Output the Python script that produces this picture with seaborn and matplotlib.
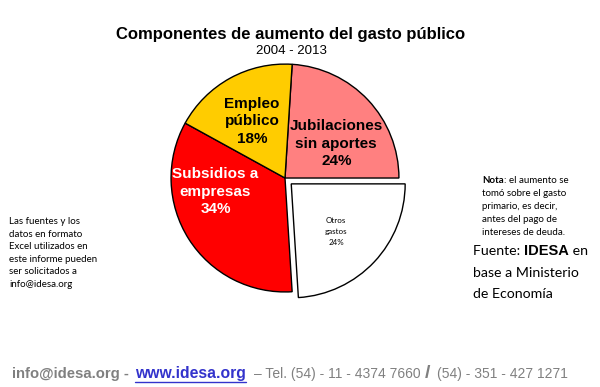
import matplotlib
matplotlib.use("Agg")
import matplotlib.pyplot as plt
import seaborn as sns

sns.set_theme(style="white")
plt.rcParams['font.family'] = ['Liberation Sans', 'DejaVu Sans']
plt.rcParams['text.color'] = 'black'

# data
componentes = ["Jubilaciones\nsin aportes", "Otros\ngastos", "Subsidios a\nempresas", "Empleo\npúblico"]
porcentajes = [24, 24, 34, 18]
colores = ["#FF8080", "#FFFFFF", "#FF0000", "#FFCC00"]
separacion = [0, 0.075, 0, 0]

titulo = "Componentes de aumento del gasto público"
periodo = "2004 - 2013"
nota = ["tomó sobre el gasto", "primario, es decir,", "antes del pago de", "intereses de deuda."]

fig = plt.figure(figsize=(6, 3.87), dpi=100)
fig.patch.set_facecolor("white")
ax = fig.add_axes([0.2375, 0.172, 0.475, 0.736])

wedges, _ = ax.pie(porcentajes, colors=colores, explode=separacion,
                   startangle=86.4, counterclock=False,
                   wedgeprops=dict(edgecolor="black", linewidth=1.0))
ax.set_xlim(-1.25, 1.25)
ax.set_ylim(-1.25, 1.25)
ax.set_aspect("equal")
ax.axis("off")

# slice labels
pos = [(0.45, 0.30), (0.45, -0.47), (-0.61, -0.12), (-0.29, 0.50)]
txt_color = ["black", "black", "white", "black"]
for i, (nombre, p) in enumerate(zip(componentes, porcentajes)):
    if nombre.startswith("Otros"):
        ax.text(pos[i][0], pos[i][1], f"{nombre}\n{p}%", ha="center", va="center",
                fontsize=5.8, family=["Lato", "DejaVu Sans"], linespacing=1.7,
                color=txt_color[i])
    else:
        ax.text(pos[i][0], pos[i][1], f"{nombre}\n{p}%", ha="center", va="center",
                fontsize=11, fontweight="bold", linespacing=1.32,
                color=txt_color[i])

# titles
fig.text(0.485, 0.91, titulo, ha="center", va="center", fontsize=12, fontweight="bold")
fig.text(0.485, 0.869, periodo, ha="center", va="center", fontsize=9.5)

fig.canvas.draw()
renderer = fig.canvas.get_renderer()


def cadena(px, py, partes):
    # draw text pieces one after another on the same baseline
    x = px / 600
    for s, kw in partes:
        t = fig.text(x, 1 - py / 387, s, ha="left", va="baseline", **kw)
        bb = t.get_window_extent(renderer=renderer)
        x = bb.x1 / 600


# left note
fig.text(0.015, 0.438, "Las fuentes y los\ndatos en formato\nExcel utilizados en\neste informe pueden\nser solicitados a\ninfo@idesa.org",
         ha="left", va="top", fontsize=7, family=["Lato", "DejaVu Sans"], linespacing=1.49)

# right note
lato = ["Lato", "DejaVu Sans"]
cadena(482, 183, [("Nota", dict(fontsize=7, family=lato, fontweight="bold")),
                  (": el aumento se", dict(fontsize=7, family=lato))])
for i, linea in enumerate(nota):
    cadena(482, 183 + 13 * (i + 1), [(linea, dict(fontsize=7, family=lato))])
cadena(473, 255, [("Fuente: ", dict(fontsize=10.2, family=lato)),
                  ("IDESA", dict(fontsize=10.5, fontweight="bold")),
                  (" en", dict(fontsize=10.2, family=lato))])
cadena(473, 277, [("base a Ministerio", dict(fontsize=10.2, family=lato))])
cadena(473, 298, [("de Economía", dict(fontsize=10.2, family=lato))])

# footer
gris = "#808080"
azul = "#3333CC"
y = 0.023
partes = [
    (12, "info@idesa.org -", dict(color=gris, fontweight="bold", fontsize=10.7)),
    (135, "www.idesa.org", dict(color=azul, fontweight="bold", fontsize=11.3)),
    (254, "– Tel. (54) - 11 - 4374 7660", dict(color=gris, fontsize=10)),
    (425, "/", dict(color=gris, fontsize=14, fontweight="bold")),
    (437, "(54) - 351 - 427 1271", dict(color=gris, fontsize=10)),
]
for px, s, kw in partes:
    t = fig.text(px / 600, y, s, ha="left", va="baseline", **kw)
    if s.startswith("www"):
        bb = t.get_window_extent(renderer=renderer)
        fig.add_artist(plt.Line2D([bb.x0 / 600, bb.x1 / 600], [y - 0.009, y - 0.009],
                                  color=azul, linewidth=1.0))

fig.savefig("out.png", dpi=100, facecolor="white")
